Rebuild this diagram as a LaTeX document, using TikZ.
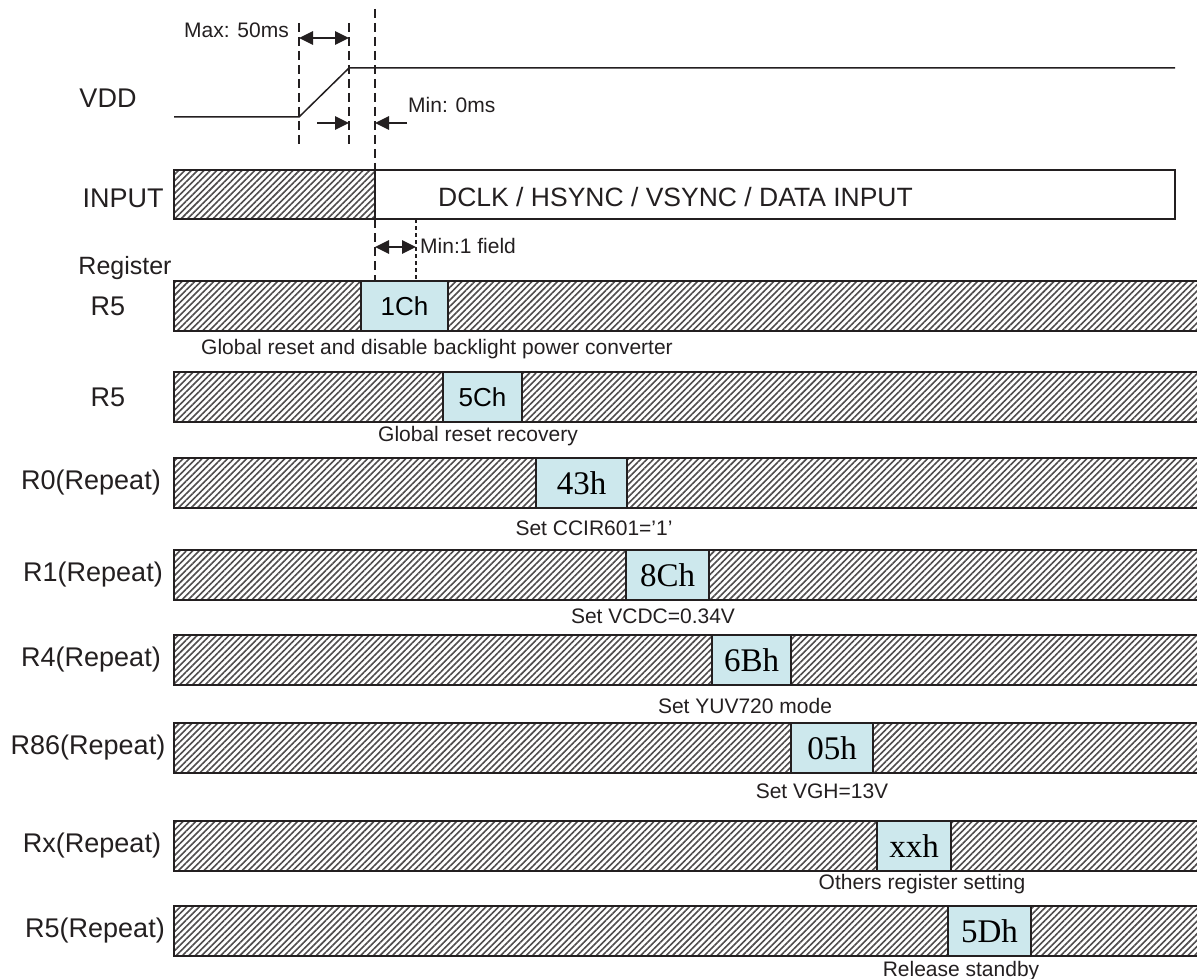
\documentclass[tikz,border=0pt]{standalone}
\usepackage{fontspec}
\setmainfont{Liberation Sans}
\newfontfamily\valserif{Liberation Serif}
\newfontfamily\valsans{Liberation Sans}
\usetikzlibrary{arrows.meta,patterns.meta}

\definecolor{regblue}{RGB}{205,232,237}
\definecolor{ink}{RGB}{35,31,32}

\newcommand\boxsans{\valsans\fontsize{26}{28}\selectfont}
\newcommand\boxserif{\valserif\fontsize{33}{35}\selectfont}

\tikzset{
  hatchbar/.style={draw=ink, line width=1.8pt, inner sep=0pt, outer sep=0pt,
    pattern={Lines[angle=45,distance=4.5pt,line width=1.6pt]}, pattern color=ink!80},
  plainbar/.style={draw=ink, line width=1.8pt, inner sep=0pt, outer sep=0pt},
  regbox/.style={draw=ink, line width=1.8pt, fill=regblue, inner sep=0pt, outer sep=0pt},
  sig/.style={draw=ink, line width=1.5pt},
  guide/.style={ink, line width=2.6pt, dash pattern=on 9pt off 5pt},
  fineguide/.style={ink, line width=1.8pt, dash pattern=on 4pt off 3pt},
  dimarr/.style={ink, line width=2.8pt, >={Triangle[length=14pt,width=13pt]}},
  lbl/.style={inner sep=0pt, text=ink, font=\fontsize{27}{30}\selectfont},
  note/.style={inner sep=0pt, text=ink, font=\fontsize{21}{24}\selectfont},
}

\begin{document}
\begin{tikzpicture}[x=1pt,y=-1pt]
\useasboundingbox (0,0) rectangle (1197,979);

% supply
\node[lbl] (vdd) at (108,98) {VDD};
\coordinate (vlo) at (174,117);
\coordinate (vrise) at (299,117);
\coordinate (vtop) at (349,68);
\coordinate (vhi) at (1175,68);
\draw[sig] (vlo) -- (vrise) -- (vtop) -- (vhi);

% timing guides
\coordinate (g1a) at (299,23);  \coordinate (g1b) at (299,145);
\coordinate (g2a) at (349,23);  \coordinate (g2b) at (349,145);
\coordinate (g3a) at (375,9);   \coordinate (g3b) at (375,170);
\coordinate (g3c) at (375,219); \coordinate (g3d) at (375,281);
\coordinate (g4a) at (416,219); \coordinate (g4b) at (416,281);
\draw[guide] (g1a) -- (g1b);
\draw[guide] (g2a) -- (g2b);
\draw[guide] (g3a) -- (g3b);
\draw[guide] (g3c) -- (g3d);
\draw[fineguide] (g4a) -- (g4b);

\coordinate (m1) at (299,38);  \coordinate (m2) at (349,38);
\coordinate (t1) at (317,123); \coordinate (t2) at (349,123);
\coordinate (t3) at (407,123); \coordinate (t4) at (375,123);
\coordinate (f1) at (375,247); \coordinate (f2) at (416,247);
\draw[dimarr,<->] (m1) -- (m2);
\draw[dimarr,->] (t1) -- (t2);
\draw[dimarr,->] (t3) -- (t4);
\draw[dimarr,<->] (f1) -- (f2);
\node[note, anchor=east] (maxlbl) at (289,30) {Max: 50ms};
\node[note, anchor=west] (minlbl) at (408,105) {Min: 0ms};
\node[note, anchor=west] (fieldlbl) at (420,246) {Min:1 field};

% input
\node[lbl] (inlbl) at (123,198) {INPUT};
\node[plainbar, anchor=north west, minimum width=1001pt, minimum height=49pt] (input) at (174,170) {};
\node[hatchbar, anchor=north west, minimum width=201pt, minimum height=49pt] (inhatch) at (174,170) {};
\node[inner sep=0pt, text=ink, font=\fontsize{26.5}{29}\selectfont, anchor=west] (intext) at (438,197) {DCLK / HSYNC / VSYNC / DATA INPUT};

% registers
\node[lbl, font=\fontsize{25}{28}\selectfont] (reglbl) at (125,268) {Register};
\foreach \n/\lab/\lx/\top/\bl/\br/\val/\vf/\cap/\cx/\cy in {
  r5a/R5/108/281/361/448/1Ch/\boxsans/Global reset and disable backlight power converter/437/354,
  r5b/R5/108/372/443/522/5Ch/\boxsans/Global reset recovery/478/441,
  r0/R0(Repeat)/91/458/536/627/43h/\boxserif/Set CCIR601='1'/594/535,
  r1/R1(Repeat)/93/550/626/709/8Ch/\boxserif/Set VCDC=0.34V/653/623,
  r4/R4(Repeat)/91/635/712/791/6Bh/\boxserif/Set YUV720 mode/745/713,
  r86/R86(Repeat)/88/723/791/873/05h/\boxserif/Set VGH=13V/822/798,
  rx/Rx(Repeat)/92/821/877/951/xxh/\boxserif/Others register setting/922/889,
  r5r/R5(Repeat)/95/906/948/1031/5Dh/\boxserif/Release standby/961/976}
{
  \pgfmathsetmacro\bw{\br-\bl}
  \node[hatchbar, anchor=north west, minimum width=1040pt, minimum height=50pt] (\n-bar) at (174,\top) {};
  \node[regbox, minimum width=\bw pt, minimum height=50pt] (\n-val) at ({(\bl+\br)/2},\top+25) {\vf\val};
  \node[lbl] (\n-lbl) at (\lx,\top+25) {\lab};
  \node[note, anchor=base] (\n-cap) at (\cx,\cy) {\cap};
}
\end{tikzpicture}
\end{document}
